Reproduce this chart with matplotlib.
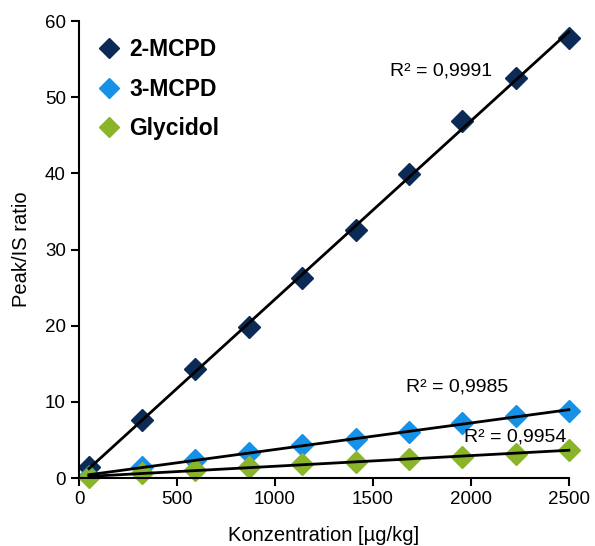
import numpy as np
import matplotlib
matplotlib.use("Agg")
import matplotlib.pyplot as plt

plt.rcParams['font.family'] = ['Liberation Sans', 'DejaVu Sans']

# concentrations and peak/IS ratios
konz = [50, 322, 594, 867, 1139, 1411, 1683, 1956, 2228, 2500]
mcpd2 = [1.4, 7.6, 14.3, 19.8, 26.3, 32.6, 39.9, 46.9, 52.5, 57.8]
mcpd3 = [0.3, 1.4, 2.4, 3.3, 4.3, 5.1, 6.1, 7.2, 8.1, 8.8]
glycidol = [0.1, 0.6, 1.0, 1.5, 1.8, 2.1, 2.5, 2.8, 3.2, 3.7]

names = ['2-MCPD', '3-MCPD', 'Glycidol']
colors = ['#0b2a55', '#1591e8', '#8ab52b']
r2_labels = ['R² = 0,9991', 'R² = 0,9985', 'R² = 0,9954']
r2_pos = [(1847, 53.5), (1929, 11.9), (2224, 5.4)]

fig = plt.figure(figsize=(5.95, 5.46), dpi=100)
ax = fig.add_axes([0.133, 0.1245, 0.823, 0.837])

x = np.array(konz)
for ys, name, c in zip([mcpd2, mcpd3, glycidol], names, colors):
    ax.plot(x, ys, 'D', color=c, markersize=11, label=name, zorder=2, clip_on=False)
    # linear trendline
    k, d = np.polyfit(x, ys, 1)
    ax.plot(x[[0, -1]], k * x[[0, -1]] + d, color='black', lw=2, zorder=3, clip_on=False)

for txt, (tx, ty) in zip(r2_labels, r2_pos):
    ax.text(tx, ty, txt, fontsize=14, ha='center', va='center')

ax.set_xlim(0, 2500)
ax.set_ylim(0, 60)
ax.set_xticks(range(0, 2501, 500))
ax.set_yticks(range(0, 61, 10))
ax.spines['top'].set_visible(False)
ax.spines['right'].set_visible(False)
ax.spines['left'].set_linewidth(1.5)
ax.spines['bottom'].set_linewidth(1.5)
ax.tick_params(direction='out', length=6, width=1.5, labelsize=13.5)
ax.set_xlabel('Konzentration [µg/kg]', fontsize=14.5)
ax.xaxis.set_label_coords(0.5, -0.106)
ax.set_ylabel('Peak/IS ratio', fontsize=14.5, labelpad=10)

leg = ax.legend(loc='upper left', frameon=False, prop={'weight': 'bold', 'size': 16.5},
                handlelength=1, handletextpad=0.4, labelspacing=0.72,
                borderpad=0, borderaxespad=0, markerscale=0.9,
                bbox_to_anchor=(0.037, 0.962))

plt.savefig('out.png', dpi=100)
